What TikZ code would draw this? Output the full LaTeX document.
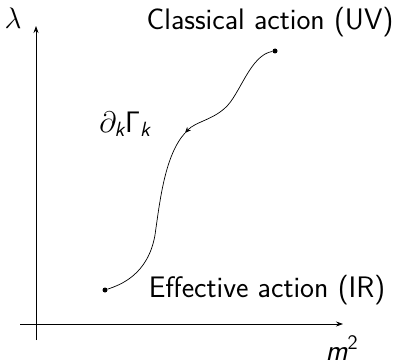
\documentclass[tikz,border=0pt]{standalone}
\usepackage{amsmath}
\usetikzlibrary{arrows.meta}
\begin{document}
\begin{tikzpicture}[x=1pt,y=-1pt,
  axis/.style={line width=0.8pt,-{Stealth[length=7pt,width=5pt]}},
  flow/.style={line width=0.7pt},
  dotnode/.style={circle,fill,inner sep=0pt,minimum size=5pt},
  lbl/.style={font=\fontsize{20.74}{25}\selectfont\sffamily,inner sep=0pt,scale=1.43}]
\useasboundingbox (0,0) rectangle (402,361);
\coordinate (yb) at (36,340);
\coordinate (yt) at (36,26);
\coordinate (xl) at (20,324);
\coordinate (xr) at (343,324);
\draw[axis] (yb) -- (yt);
\draw[axis] (xl) -- (xr);
\node[lbl] (lam) at (13,18) {$\lambda$};
\node[lbl,anchor=base] (m2) at (342,360) {\itshape m$^{\text{\upshape 2}}$};
\node[dotnode] (uv) at (275,51) {};
\node[dotnode] (ir) at (105,290) {};
\coordinate (mid) at (185,133);
\node[lbl] (cl) at (270,22) {Classical action (UV)};
\node[lbl] (ef) at (267,290) {Effective action (IR)};
\node[lbl] (flowlbl) at (125,124) {$\partial_{\text{\itshape k}}\mathsf{\Gamma}_{\text{\itshape k}}$};
\draw[flow,-{Stealth[length=6pt,width=5pt]}] (uv) .. controls (250,55) and (240,95) .. (225,108) .. controls (212,120) and (195,122) .. (mid);
\draw[flow] (mid) .. controls (165,155) and (160,200) .. (155,235) .. controls (148,275) and (120,285) .. (ir);
\end{tikzpicture}
\end{document}
